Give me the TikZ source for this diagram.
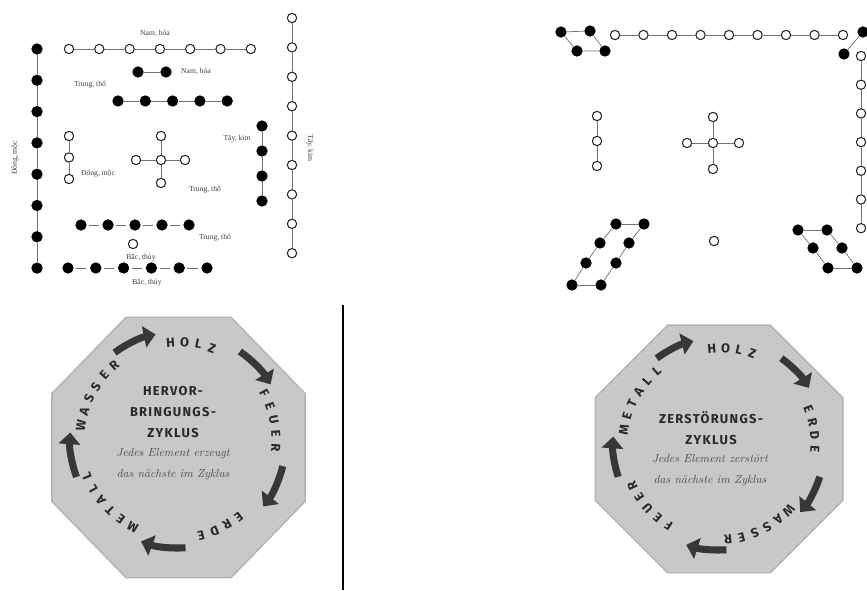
\documentclass[tikz,border=0pt]{standalone}
\usepackage{fontspec}
\usetikzlibrary{arrows.meta}
\newfontfamily\vnfont{Liberation Serif}
\newfontfamily\octfont[LetterSpace=10]{Fira Sans}
\newfontfamily\ringfont{Fira Sans}
\definecolor{octfill}{RGB}{200,200,200}
\definecolor{octedge}{RGB}{178,178,178}
\definecolor{encre}{RGB}{40,40,40}
\definecolor{grisfleche}{RGB}{55,55,55}
\tikzset{
  yang/.style={circle, draw=black!85, fill=white, line width=0.9pt, inner sep=0pt, minimum size=0.28cm},
  yin/.style={circle, fill=black, inner sep=0pt, minimum size=0.34cm},
  lien/.style={draw=black!55, line width=0.6pt},
  lienc/.style={lien, shorten <=2pt, shorten >=3pt},
  nom/.style={font=\vnfont\fontsize{6.5}{7}\selectfont, text=black!75, inner sep=1pt},
  octo/.style={fill=octfill, draw=octedge, line width=1.2pt},
  lettre/.style={font=\ringfont\bfseries\fontsize{11}{11}\selectfont, text=encre, inner sep=0pt},
  fleche/.style={draw=grisfleche, line width=6pt, -{Triangle[length=10pt,width=18pt]}},
  titre/.style={font=\octfont\bfseries\fontsize{11}{18}\selectfont, text=encre, align=center},
  devise/.style={font=\itshape\fontsize{10}{18}\selectfont, text=black!70, align=center},
}
% mot en arc : nom, angle, nombre de lettres, lettres
\newcommand\motanneau[4]{%
  \foreach \ch [count=\k] in {#4} {
    \pgfmathsetmacro\ang{#2+((#3+1)/2-\k)*8.2}
    \node[lettre, rotate=\ang-90] (#1\k) at (\ang:\rayon) {\ch};
  }}

\begin{document}
\begin{tikzpicture}[x=0.03cm, y=0.03cm]
  \path[use as bounding box, fill=white] (0,0) rectangle (867,591);

  % ---- Ha do ----
  % est : 8 noirs, 3 blancs
  \foreach \i in {1,...,8} \node[yin] (est\i) at (37,{542-31.3*(\i-1)}) {};
  \foreach \i [count=\j from 2] in {1,...,7} \draw[lien] (est\i) -- (est\j);
  \foreach \i in {1,...,3} \node[yang] (estb\i) at (69,{455-21.5*(\i-1)}) {};
  \foreach \i [count=\j from 2] in {1,2} \draw[lien] (estb\i) -- (estb\j);
  % sud : 7 blancs, 2 noirs
  \foreach \i in {1,...,7} \node[yang] (sud\i) at ({69+30.3*(\i-1)},542) {};
  \foreach \i [count=\j from 2] in {1,...,6} \draw[lien] (sud\i) -- (sud\j);
  \node[yin] (sudn1) at (138,519) {};
  \node[yin] (sudn2) at (166,519) {};
  \draw[lien] (sudn1) -- (sudn2);
  % ouest : 4 noirs, 9 blancs
  \foreach \i in {1,...,4} \node[yin] (ouest\i) at (262,{465-25*(\i-1)}) {};
  \foreach \i [count=\j from 2] in {1,...,3} \draw[lien] (ouest\i) -- (ouest\j);
  \foreach \i in {1,...,9} \node[yang] (ouestb\i) at (292,{573-29.4*(\i-1)}) {};
  \foreach \i [count=\j from 2] in {1,...,8} \draw[lien] (ouestb\i) -- (ouestb\j);
  % centre : 5 blancs, 10 noirs
  \node[yang] (c0) at (161,431) {};
  \node[yang] (cn) at (161,455) {};
  \node[yang] (cs) at (161,408) {};
  \node[yang] (cw) at (136,431) {};
  \node[yang] (ce) at (185,431) {};
  \foreach \b in {cn,cs,cw,ce} \draw[lien] (c0) -- (\b);
  \foreach \i in {1,...,5} \node[yin] (ca\i) at ({118+27.3*(\i-1)},490) {};
  \foreach \i [count=\j from 2] in {1,...,4} \draw[lien] (ca\i) -- (ca\j);
  \foreach \i in {1,...,5} \node[yin] (cb\i) at ({81+27*(\i-1)},366) {};
  \foreach \i [count=\j from 2] in {1,...,4} \draw[lienc] (cb\i) -- (cb\j);
  % nord : 1 blanc, 6 noirs
  \node[yang] (nord1) at (133,347) {};
  \foreach \i in {1,...,6} \node[yin] (nordn\i) at ({68+27.8*(\i-1)},323) {};
  \foreach \i [count=\j from 2] in {1,...,5} \draw[lienc] (nordn\i) -- (nordn\j);
  % noms
  \node[nom] (nsud) at (155,558) {Nam, hỏa};
  \node[nom] (nsudn) at (196,520) {Nam, hỏa};
  \node[nom] (ntrung1) at (90,506) {Trung, thổ};
  \node[nom] (nest) at (98,417) {Đông, mộc};
  \node[nom, rotate=90] (nestv) at (15,433) {Đông, mộc};
  \node[nom] (nouest) at (237,452) {Tây, kim};
  \node[nom, rotate=-90] (nouestv) at (310,443) {Tây, kim};
  \node[nom] (ntrung2) at (205,401) {Trung, thổ};
  \node[nom] (ntrung3) at (215,353) {Trung, thổ};
  \node[nom] (nnord1) at (141,333) {Bắc, thủy};
  \node[nom] (nnord2) at (147,308) {Bắc, thủy};

  % ---- Lac thu ----
  \foreach \i in {1,...,9} \node[yang] (l9\i) at ({615+28.5*(\i-1)},556) {};
  \foreach \i [count=\j from 2] in {1,...,8} \draw[lien] (l9\i) -- (l9\j);
  \foreach \i in {1,...,7} \node[yang] (l7\i) at (861,{535-28.7*(\i-1)}) {};
  \foreach \i [count=\j from 2] in {1,...,6} \draw[lien] (l7\i) -- (l7\j);
  \foreach \i in {1,...,3} \node[yang] (l3\i) at (597,{475-25*(\i-1)}) {};
  \foreach \i [count=\j from 2] in {1,2} \draw[lien] (l3\i) -- (l3\j);
  \node[yang] (l5o) at (713,448) {};
  \node[yang] (l5n) at (713,474) {};
  \node[yang] (l5s) at (713,422) {};
  \node[yang] (l5w) at (687,448) {};
  \node[yang] (l5e) at (739,448) {};
  \foreach \b in {l5n,l5s,l5w,l5e} \draw[lien] (l5o) -- (\b);
  \node[yang] (l1) at (714,350) {};
  % coins noirs
  \node[yin] (l4a) at (561,559) {};
  \node[yin] (l4b) at (590,560) {};
  \node[yin] (l4c) at (577,540) {};
  \node[yin] (l4d) at (605,540) {};
  \draw[lien] (l4a) -- (l4b) (l4a) -- (l4c) (l4b) -- (l4d) (l4c) -- (l4d);
  \node[yin] (l2a) at (863,559) {};
  \node[yin] (l2b) at (844,537) {};
  \draw[lien] (l2a) -- (l2b);
  \foreach \i/\xa/\xb/\yy in {1/616/644/367, 2/600/629/348, 3/586/616/328, 4/572/601/306} {
    \node[yin] (l8a\i) at (\xa,\yy) {};
    \node[yin] (l8b\i) at (\xb,\yy) {};
  }
  \draw[lien] (l8a1) -- (l8b1) (l8a4) -- (l8b4);
  \foreach \i [count=\j from 2] in {1,...,3} \draw[lien] (l8a\i) -- (l8a\j) (l8b\i) -- (l8b\j);
  \foreach \i/\xa/\xb/\yy in {1/798/827/361, 2/813/842/343, 3/828/857/323} {
    \node[yin] (l6a\i) at (\xa,\yy) {};
    \node[yin] (l6b\i) at (\xb,\yy) {};
  }
  \draw[lien] (l6a1) -- (l6b1) (l6a3) -- (l6b3);
  \foreach \i [count=\j from 2] in {1,2} \draw[lien] (l6a\i) -- (l6a\j) (l6b\i) -- (l6b\j);

  % separation
  \draw[line width=1pt] (343,1) -- (343,286);

  % ---- octogone : cycle de production ----
  \begin{scope}[shift={(178.5,143.5)}]
    \draw[octo] (22.5:137 and 141) \foreach \a in {67.5,112.5,...,337.5} {-- (\a:137 and 141)} -- cycle;
  \end{scope}
  \begin{scope}[shift={(178,151)}]
    \def\rayon{98}
    \motanneau{holzA}{82}{4}{H,O,L,Z}
    \motanneau{feuerA}{12}{5}{F,E,U,E,R}
    \motanneau{erdeA}{-64}{4}{E,R,D,E}
    \motanneau{metallA}{-138}{6}{M,E,T,A,L,L}
    \motanneau{wasserA}{151}{6}{W,A,S,S,E,R}
    \foreach \s/\e in {126/102, 55/31, -14/-38, -86/-110, -160/-184}
      \draw[fleche] (\s:108) arc[start angle=\s, end angle=\e, radius=108];
  \end{scope}
  \node[titre] (hervor) at (173,179) {HERVOR-\\BRINGUNGS-\\ZYKLUS};
  \node[devise] (erzeugt) at (173,127) {Jedes Element erzeugt\\das nächste im Zyklus};

  % ---- octogone : cycle de destruction ----
  \begin{scope}[shift={(719,142)}]
    \draw[octo] (22.5:134) \foreach \a in {67.5,112.5,...,337.5} {-- (\a:134)} -- cycle;
  \end{scope}
  \begin{scope}[shift={(719,147)}]
    \def\rayon{96}
    \motanneau{holzB}{82}{4}{H,O,L,Z}
    \motanneau{erdeB}{9}{4}{E,R,D,E}
    \motanneau{wasserB}{-64}{6}{W,A,S,S,E,R}
    \motanneau{feuerB}{-138}{5}{F,E,U,E,R}
    \motanneau{metallB}{151}{6}{M,E,T,A,L,L}
    \foreach \s/\e in {126/104, 54/32, -18/-40, -86/-108, -162/-184}
      \draw[fleche] (\s:106) arc[start angle=\s, end angle=\e, radius=106];
  \end{scope}
  \node[titre] (zerst) at (711,163) {ZERSTÖRUNGS-\\ZYKLUS};
  \node[devise] (zerstoert) at (710,120.5) {Jedes Element zerstört\\das nächste im Zyklus};
\end{tikzpicture}
\end{document}
